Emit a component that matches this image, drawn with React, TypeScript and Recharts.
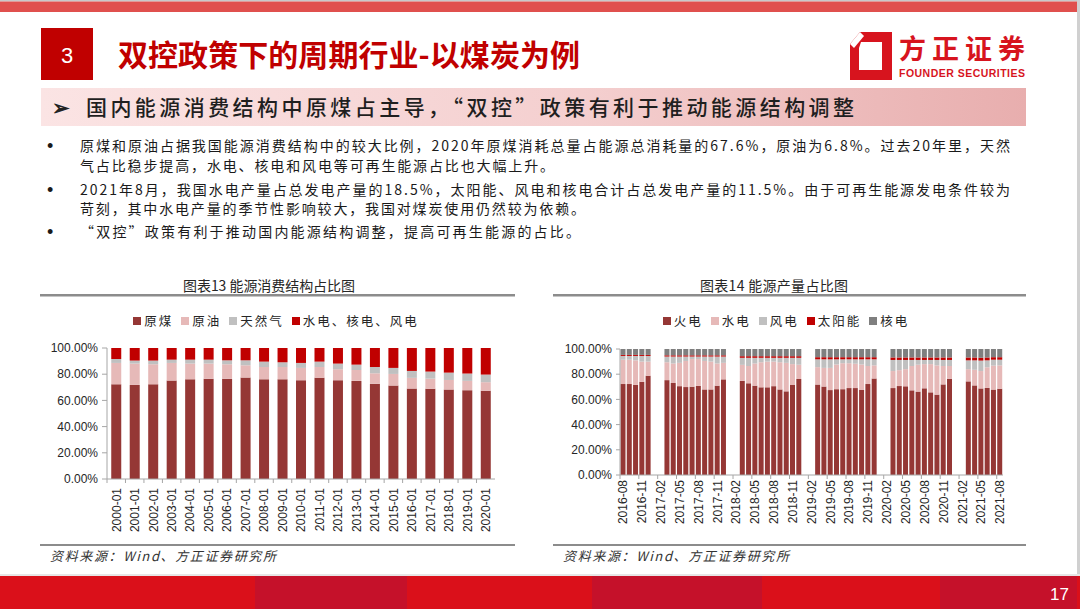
import React from 'react';
import { BarChart, Bar, XAxis, YAxis, Legend } from 'recharts';

// ---------- Chart 13: energy structure (yearly) ----------
const years = ['2000-01','2001-01','2002-01','2003-01','2004-01','2005-01','2006-01','2007-01','2008-01','2009-01','2010-01','2011-01','2012-01','2013-01','2014-01','2015-01','2016-01','2017-01','2018-01','2019-01','2020-01'];
const coalShare = [72.3, 71.8, 72.3, 75.1, 76.1, 76.6, 76.6, 77.4, 76.1, 76.1, 75.4, 77.2, 75.4, 74.9, 72.8, 71.3, 69.0, 68.8, 68.3, 67.8, 67.3];
const oilShare = [16.3, 16.3, 15.3, 13.5, 12.0, 11.5, 11.0, 9.4, 9.4, 9.4, 9.4, 8.3, 8.4, 8.3, 7.9, 8.9, 8.2, 7.8, 7.3, 7.1, 6.6];
const gasShare = [3.0, 2.3, 2.8, 2.5, 3.0, 3.0, 3.0, 3.8, 4.1, 3.6, 3.8, 4.1, 4.3, 4.1, 4.8, 4.6, 5.3, 5.4, 5.6, 5.6, 5.8];
const cleanShare = [8.4, 9.6, 9.6, 8.9, 8.9, 8.9, 9.4, 9.4, 10.4, 10.9, 11.4, 10.4, 11.9, 12.7, 14.5, 15.2, 17.5, 18.0, 18.8, 19.5, 20.3];

// ---------- Chart 14: power generation structure (monthly) ----------
const months = [
  '2016-08','2016-09','2016-10','2016-11','2016-12',
  '2017-01','2017-02','2017-03','2017-04','2017-05','2017-06','2017-07','2017-08','2017-09','2017-10','2017-11','2017-12',
  '2018-01','2018-02','2018-03','2018-04','2018-05','2018-06','2018-07','2018-08','2018-09','2018-10','2018-11','2018-12',
  '2019-01','2019-02','2019-03','2019-04','2019-05','2019-06','2019-07','2019-08','2019-09','2019-10','2019-11','2019-12',
  '2020-01','2020-02','2020-03','2020-04','2020-05','2020-06','2020-07','2020-08','2020-09','2020-10','2020-11','2020-12',
  '2021-01','2021-02','2021-03','2021-04','2021-05','2021-06','2021-07','2021-08'
];
const thermal = [
  72.2, 72.2, 71.5, 74.0, 78.8,
  null, null, 75.3, 73.0, 70.5, 69.8, 70.1, 70.7, 67.9, 67.9, 70.9, 75.9,
  null, null, 74.7, 72.8, 70.9, 69.6, 69.6, 70.5, 67.9, 66.4, 71.7, 76.2,
  null, null, 71.8, 70.2, 67.4, 68.1, 68.1, 69.0, 69.0, 67.7, 72.2, 76.6,
  null, null, 69.0, 70.6, 70.4, 67.2, 66.2, 68.8, 65.6, 63.8, 71.9, 76.4,
  null, null, 74.3, 71.1, 68.7, 69.1, 67.8, 68.5
];
const hydro = [
  19.3, 19.3, 19.5, 16.0, 11.2,
  null, null, 14.2, 15.5, 18.5, 20.7, 21.9, 21.3, 22.6, 22.1, 17.6, 13.1,
  null, null, 12.7, 13.7, 17.6, 19.9, 20.4, 19.5, 21.6, 22.6, 16.3, 11.3,
  null, null, 13.8, 14.8, 17.6, 19.6, 20.6, 19.7, 19.3, 20.0, 14.3, 10.4,
  null, null, 13.5, 12.6, 13.6, 19.3, 21.3, 19.2, 22.4, 23.2, 14.6, 10.1,
  null, null, 9.7, 12.4, 13.8, 16.4, 19.0, 18.5
];
const wind = [
  3.0, 3.0, 3.5, 4.5, 4.5,
  null, null, 4.5, 5.5, 5.0, 3.5, 2.0, 2.0, 3.5, 4.0, 5.5, 5.0,
  null, null, 5.6, 6.5, 4.5, 3.5, 3.0, 3.0, 3.5, 4.0, 5.0, 5.5,
  null, null, 6.2, 6.8, 6.8, 4.1, 3.1, 3.1, 3.5, 4.1, 5.3, 4.8,
  null, null, 8.8, 8.1, 7.3, 4.8, 3.8, 3.3, 3.3, 4.3, 4.8, 4.8,
  null, null, 7.0, 7.5, 8.3, 5.5, 4.7, 4.5
];
const solar = [
  0.8, 0.8, 0.8, 0.8, 0.8,
  null, null, 1.0, 1.0, 1.0, 1.0, 1.0, 1.0, 1.0, 1.0, 1.0, 1.0,
  null, null, 1.3, 1.3, 1.3, 1.3, 1.3, 1.3, 1.3, 1.3, 1.3, 1.3,
  null, null, 1.7, 1.7, 1.7, 1.7, 1.7, 1.7, 1.7, 1.7, 1.7, 1.7,
  null, null, 2.0, 2.0, 2.0, 2.0, 2.0, 2.0, 2.0, 2.0, 2.0, 2.0,
  null, null, 2.3, 2.3, 2.2, 2.3, 2.0, 2.0
];
const nuclear = [
  4.7, 4.7, 4.7, 4.7, 4.7,
  null, null, 5.0, 5.0, 5.0, 5.0, 5.0, 5.0, 5.0, 5.0, 5.0, 5.0,
  null, null, 5.7, 5.7, 5.7, 5.7, 5.7, 5.7, 5.7, 5.7, 5.7, 5.7,
  null, null, 6.5, 6.5, 6.5, 6.5, 6.5, 6.5, 6.5, 6.5, 6.5, 6.5,
  null, null, 6.7, 6.7, 6.7, 6.7, 6.7, 6.7, 6.7, 6.7, 6.7, 6.7,
  null, null, 6.7, 6.7, 7.0, 6.7, 6.5, 6.5
];

const yTicks = [0, 20, 40, 60, 80, 100];

const consumptionData = years.map((y, i) => ({
  year: y, coal: coalShare[i], oil: oilShare[i], gas: gasShare[i], clean: cleanShare[i],
}));
const powerData = months.map((m, i) => ({
  month: m, thermal: thermal[i], hydro: hydro[i], wind: wind[i], solar: solar[i], nuclear: nuclear[i],
}));

const C_COAL = '#953735';
const C_PINK = '#e6b9b8';
const C_GREY = '#c0c0c0';
const C_RED = '#c00000';
const C_DARK = '#7f7f7f';
const AXIS = '#a6a6a6';
const CJK = "'Noto Sans CJK SC', 'Liberation Sans', sans-serif";
const LAT = "'Liberation Sans', Arial, sans-serif";

const fmtPct = (v: number) => v.toFixed(2) + '%';

const makeTick = (band: number, off: number) => (props: any) => {
  const { x, y, payload } = props;
  const ax = y - off;
  return (
    <g>
      <line x1={x - band / 2} x2={x - band / 2} y1={ax} y2={ax + 4} stroke={AXIS} strokeWidth={1} />
      <text
        x={x}
        y={y}
        transform={`rotate(-90, ${x}, ${y})`}
        textAnchor="end"
        dy="0.36em"
        fontSize={12}
        fontFamily={LAT}
        fill="#262626"
      >
        {payload.value}
      </text>
    </g>
  );
};

const makeLegend = (items: { label: string; color: string }[], h: number) => () => (
  <div style={{ height: h, display: 'flex', justifyContent: 'center', alignItems: 'flex-start', paddingTop: 3, boxSizing: 'border-box' }}>
    {items.map((it) => (
      <div key={it.label} style={{ display: 'flex', alignItems: 'center', marginRight: 8, marginLeft: 0 }}>
        <span style={{ width: 8, height: 8, background: it.color, display: 'inline-block', marginRight: 3 }} />
        <span style={{ fontFamily: CJK, fontSize: 12.5, letterSpacing: 2, color: '#262626', lineHeight: '16px' }}>{it.label}</span>
      </div>
    ))}
  </div>
);

const legendLeft = makeLegend([
  { label: '原煤', color: C_COAL },
  { label: '原油', color: C_PINK },
  { label: '天然气', color: C_GREY },
  { label: '水电、核电、风电', color: C_RED },
], 38);

const legendRight = makeLegend([
  { label: '火电', color: C_COAL },
  { label: '水电', color: C_PINK },
  { label: '风电', color: C_GREY },
  { label: '太阳能', color: C_RED },
  { label: '核电', color: C_DARK },
], 39);

const T = (p: any) => {
  const { x, y, w, size, children, fill = '#1a1a1a', weight = 400, family = CJK, italic = false, anchor = 'start' } = p;
  return (
    <text
      x={x}
      y={y}
      fontSize={size}
      fill={fill}
      fontWeight={weight}
      fontFamily={family}
      fontStyle={italic ? 'italic' : 'normal'}
      textAnchor={anchor}
      {...(w ? { textLength: w, lengthAdjust: 'spacing' } : {})}
    >
      {children}
    </text>
  );
};

export default function App() {
  return (
    <div style={{ position: 'absolute', left: 0, top: 0, width: 1080, height: 609, background: '#ffffff', overflow: 'hidden' }}>
      {/* decorative / text overlay */}
      <svg width={1080} height={609} style={{ position: 'absolute', left: 0, top: 0 }}>
        <defs>
          <linearGradient id="subbar" x1="0" y1="0" x2="1" y2="0">
            <stop offset="0" stopColor="#fbe4e4" />
            <stop offset="0.55" stopColor="#f4cfcf" />
            <stop offset="1" stopColor="#e8aeae" />
          </linearGradient>
        </defs>
        <rect x={0} y={0} width={1080} height={1.5} fill="#c9c9c9" />
        <rect x={0} y={1.5} width={1080} height={10.5} fill="#e0504d" />
        <rect x={1077} y={0} width={3} height={609} fill="#d0d0d0" />

        {/* section number */}
        <rect x={41} y={28} width={52} height={52} fill="#c00000" />
        <T x={67} y={63} size={22} fill="#ffffff" family={LAT} anchor="middle">3</T>
        <T x={118} y={66} size={30} w={462} weight={700} fill="#c00000">双控政策下的周期行业-以煤炭为例</T>

        {/* logo */}
        <path
          d="M860,32 L892,32 L892,80 L850,80 L850,44 Z M861,42 L882,42 L882,70 L859,70 L859,48 Z"
          fill="#d7141e"
          fillRule="evenodd"
        />
        <path d="M850,44 L860,32 L864,36 L854,48 Z" fill="#ffffff" />
        <T x={899} y={59} size={27} w={126} weight={700} fill="#d7141e">方正证券</T>
        <T x={899} y={77} size={10.5} w={126} weight={700} fill="#d7141e" family={LAT}>FOUNDER SECURITIES</T>

        {/* sub title bar */}
        <rect x={41} y={88} width={985} height={38} fill="url(#subbar)" />
        <T x={52} y={115} size={21} fill="#222" weight={700}>➢</T>
        <T x={86} y={115} size={21} w={768} fill="#1f1f1f" weight={500}>国内能源消费结构中原煤占主导，“双控”政策有利于推动能源结构调整</T>

        {/* bullets */}
        <T x={47} y={152} size={18} fill="#1a1a1a" family={LAT}>•</T>
        <T x={80} y={151} size={14} w={930}>原煤和原油占据我国能源消费结构中的较大比例，2020年原煤消耗总量占能源总消耗量的67.6%，原油为6.8%。过去20年里，天然</T>
        <T x={80} y={171} size={14} w={474}>气占比稳步提高，水电、核电和风电等可再生能源占比也大幅上升。</T>
        <T x={47} y={196} size={18} fill="#1a1a1a" family={LAT}>•</T>
        <T x={80} y={195} size={14} w={930}>2021年8月，我国水电产量占总发电产量的18.5%，太阳能、风电和核电合计占总发电产量的11.5%。由于可再生能源发电条件较为</T>
        <T x={80} y={214} size={14} w={505}>苛刻，其中水电产量的季节性影响较大，我国对煤炭使用仍然较为依赖。</T>
        <T x={47} y={238} size={18} fill="#1a1a1a" family={LAT}>•</T>
        <T x={80} y={237} size={14} w={500}>“双控”政策有利于推动国内能源结构调整，提高可再生能源的占比。</T>

        {/* chart titles */}
        <T x={183} y={291} size={14} w={172} fill="#262626">图表13 能源消费结构占比图</T>
        <T x={700} y={291} size={14} w={148} fill="#262626">图表14 能源产量占比图</T>
        <rect x={40} y={294} width={475} height={2.5} fill="#8c8c8c" />
        <rect x={553} y={294} width={473} height={2.5} fill="#8c8c8c" />

        {/* source */}
        <rect x={40} y={544} width={475} height={2} fill="#8c8c8c" />
        <rect x={553} y={544} width={473} height={2} fill="#8c8c8c" />
        <T x={50} y={561} size={13} w={226} italic fill="#333">资料来源：Wind、方正证券研究所</T>
        <T x={563} y={561} size={13} w={226} italic fill="#333">资料来源：Wind、方正证券研究所</T>

        {/* footer */}
        <rect x={0} y={574} width={1080} height={2} fill="#e6e6e6" />
        <rect x={0} y={576} width={1080} height={33} fill="#da101a" />
        <rect x={255} y={576} width={152} height={33} fill="#c5112a" />
        <rect x={592} y={576} width={170} height={33} fill="#c5112a" />
        <rect x={940} y={576} width={137} height={33} fill="#c5112a" />
        <T x={1069} y={600} size={17} fill="#ffffff" family={LAT} anchor="end">17</T>
      </svg>

      {/* Chart 13 */}
      <div style={{ position: 'absolute', left: 40, top: 300 }}>
        <BarChart
          width={480}
          height={245}
          data={consumptionData}
          margin={{ top: 10, right: 25, bottom: 6, left: 7 }}
          barCategoryGap="23%"
        >
          <Legend verticalAlign="top" content={legendLeft} wrapperStyle={{ left: 0, width: 480, top: 10 }} />
          <XAxis
            dataKey="year"
            interval={0}
            height={60}
            tickSize={9}
            tickMargin={0}
            tickLine={false}
            stroke={AXIS}
            tick={makeTick(388 / 21, 9)}
          />
          <YAxis
            width={60}
            domain={[0, 100]}
            ticks={yTicks}
            tickFormatter={fmtPct}
            tickSize={5}
            tickMargin={4}
            stroke={AXIS}
            tick={{ fontSize: 12, fontFamily: LAT, fill: '#262626' }}
          />
          <Bar dataKey="coal" stackId="a" fill={C_COAL} isAnimationActive={false} />
          <Bar dataKey="oil" stackId="a" fill={C_PINK} isAnimationActive={false} />
          <Bar dataKey="gas" stackId="a" fill={C_GREY} isAnimationActive={false} />
          <Bar dataKey="clean" stackId="a" fill={C_RED} isAnimationActive={false} />
        </BarChart>
      </div>

      {/* Chart 14 */}
      <div style={{ position: 'absolute', left: 555, top: 300 }}>
        <BarChart
          width={470}
          height={245}
          data={powerData}
          margin={{ top: 10, right: 22, bottom: 6, left: 5 }}
          barCategoryGap={0.5}
        >
          <Legend verticalAlign="top" content={legendRight} wrapperStyle={{ left: 0, width: 470, top: 10 }} />
          <XAxis
            dataKey="month"
            interval={2}
            height={64}
            tickSize={5}
            tickMargin={0}
            tickLine={false}
            stroke={AXIS}
            tick={makeTick(383 / 61, 5)}
          />
          <YAxis
            width={60}
            domain={[0, 100]}
            ticks={yTicks}
            tickFormatter={fmtPct}
            tickSize={4}
            tickMargin={4}
            stroke={AXIS}
            tick={{ fontSize: 12, fontFamily: LAT, fill: '#262626' }}
          />
          <Bar dataKey="thermal" stackId="b" fill={C_COAL} isAnimationActive={false} />
          <Bar dataKey="hydro" stackId="b" fill={C_PINK} isAnimationActive={false} />
          <Bar dataKey="wind" stackId="b" fill={C_GREY} isAnimationActive={false} />
          <Bar dataKey="solar" stackId="b" fill={C_RED} isAnimationActive={false} />
          <Bar dataKey="nuclear" stackId="b" fill={C_DARK} isAnimationActive={false} />
        </BarChart>
      </div>
    </div>
  );
}
